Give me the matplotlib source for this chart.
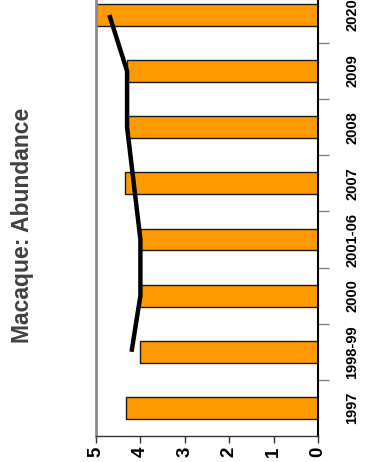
import matplotlib.pyplot as plt
import numpy as np

# data (categories listed bottom to top of the rotated chart)
categories = ['1997', '1998-99', '2000', '2001-06', '2007', '2008', '2009', '2020']
bar_values = [4.33, 4.0, 4.0, 4.0, 4.35, 4.3, 4.3, 5.0]
line_values = [np.nan, 4.2, 4.0, 4.0, 4.15, 4.3, 4.3, 4.7]
value_ticks = [0, 1, 2, 3, 4, 5]

label_font = ['Liberation Sans Narrow', 'Liberation Sans', 'DejaVu Sans']

fig = plt.figure(figsize=(3.69, 4.62), dpi=100)
ax = fig.add_axes([0.2602, 0.0563, 0.6016, 0.972])

pos = np.arange(len(categories))
ax.barh(pos, bar_values, height=0.39, color='#FF9900',
        edgecolor='#1a1a1a', linewidth=1.0, zorder=2)
ax.plot(line_values, pos, color='black', linewidth=3.2,
        solid_capstyle='butt', zorder=3)

ax.set_xlim(5, 0)
ax.set_ylim(-0.5, len(categories) - 0.5)

# category axis on the right
ax.yaxis.tick_right()
ax.set_yticks(pos)
ax.set_yticklabels(categories, rotation=90, va='center', ha='left',
                   family=label_font, fontweight='heavy', fontsize=10.5)
ax.set_yticks(pos[:-1] + 0.5, minor=True)
ax.tick_params(axis='y', which='major', length=0, pad=19.5)
ax.tick_params(axis='y', which='minor', length=8, width=1, color='#808080')

# value axis at the bottom
ax.set_xticks(value_ticks)
ax.set_xticklabels([str(v) for v in value_ticks], rotation=90,
                   family=label_font, fontweight='heavy', fontsize=13.5)
ax.tick_params(axis='x', length=5, width=1, color='#333333', pad=3)

ax.spines['top'].set_visible(False)
ax.spines['left'].set_color('#8c8c8c')
ax.spines['left'].set_linewidth(2)
ax.spines['right'].set_color('black')
ax.spines['right'].set_linewidth(1.5)
ax.spines['bottom'].set_color('#333333')
ax.spines['bottom'].set_linewidth(1)

fig.text(0.06, 0.513, 'Macaque: Abundance', rotation=90, ha='center',
         va='center', fontsize=16.5, fontweight='bold', color='#404040',
         family=['Liberation Sans', 'DejaVu Sans'])

fig.savefig('out.png', dpi=100)
